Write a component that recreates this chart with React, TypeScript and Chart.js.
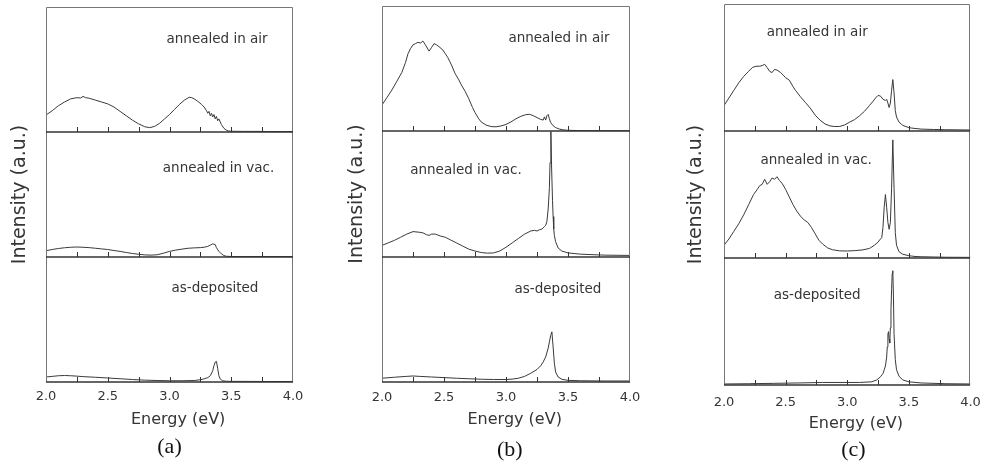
import React, { useEffect, useRef } from 'react';
import { Chart, registerables } from 'chart.js';

Chart.register(...registerables);

// ---------- axis / labels ----------
const X_MIN = 2.0;
const X_MAX = 4.0;
const X_TICK_VALUES = [2.0, 2.25, 2.5, 2.75, 3.0, 3.25, 3.5, 3.75, 4.0];
const X_TICK_LABELS = ['2.0', '', '2.5', '', '3.0', '', '3.5', '', '4.0'];
const Y_MIN = 0;
const Y_MAX = 100;
const X_TITLE = 'Energy (eV)';
const Y_TITLE = 'Intensity (a.u.)';
const SUB_LABELS = ['annealed in air', 'annealed in vac.', 'as-deposited'];
const CAPTIONS = ['(a)', '(b)', '(c)'];

// ---------- panel (a) ----------
const aAirE = [2.00, 2.05, 2.10, 2.15, 2.20, 2.25, 2.28, 2.30, 2.32, 2.35, 2.40, 2.45, 2.50, 2.55, 2.60, 2.65, 2.70, 2.75, 2.80, 2.84, 2.88, 2.92, 2.96, 3.00, 3.04, 3.08, 3.12, 3.16, 3.18, 3.20, 3.23, 3.26, 3.28, 3.30, 3.31, 3.32, 3.33, 3.34, 3.35, 3.36, 3.37, 3.38, 3.39, 3.40, 3.42, 3.44, 3.46, 3.48, 3.50, 3.60, 3.70, 3.80, 3.90, 4.00];
const aAirI = [13.6, 17, 21, 24, 26.5, 27.5, 27.2, 28.5, 27.5, 27, 25.5, 24, 22.5, 20, 16.5, 13, 9.5, 6.5, 4.2, 3.5, 4.5, 7, 10.5, 14, 18, 22, 25.5, 27.8, 27.5, 26.5, 24.5, 22, 20, 17, 15, 16.5, 13, 15, 12, 14, 10.5, 12.5, 9, 10.5, 6, 3, 1.5, 0.8, 0.6, 0.5, 0.5, 0.4, 0.4, 0.4];

const aVacE = [2.00, 2.05, 2.10, 2.15, 2.20, 2.25, 2.30, 2.35, 2.40, 2.45, 2.50, 2.55, 2.60, 2.65, 2.70, 2.75, 2.80, 2.85, 2.90, 2.95, 3.00, 3.05, 3.10, 3.15, 3.20, 3.25, 3.28, 3.31, 3.33, 3.35, 3.37, 3.38, 3.40, 3.42, 3.44, 3.46, 3.50, 3.60, 3.80, 4.00];
const aVacI = [5, 6, 6.8, 7.4, 7.8, 8, 7.8, 7.5, 7, 6.5, 6, 5.2, 4.5, 3.6, 2.8, 2.2, 1.7, 1.5, 1.8, 3, 4.5, 5.5, 6.3, 7, 7.3, 7.5, 7.8, 8.5, 9.5, 10.5, 10, 7.5, 4.5, 2.5, 1.2, 0.6, 0.4, 0.4, 0.4, 0.4];

const aDepE = [2.00, 2.05, 2.10, 2.15, 2.20, 2.25, 2.30, 2.40, 2.50, 2.60, 2.70, 2.80, 2.90, 3.00, 3.10, 3.20, 3.25, 3.28, 3.31, 3.33, 3.35, 3.36, 3.37, 3.38, 3.39, 3.40, 3.41, 3.43, 3.46, 3.50, 3.60, 3.80, 4.00];
const aDepI = [4, 4.5, 5, 5.2, 5, 4.7, 4.3, 3.8, 3.2, 2.6, 2, 1.5, 1.2, 1, 1, 1.2, 1.8, 2.5, 3.5, 5, 9, 13, 16, 16.5, 11, 5, 2.5, 1, 0.6, 0.5, 0.5, 0.4, 0.4];

// ---------- panel (b) ----------
const bAirE = [2.00, 2.04, 2.08, 2.12, 2.16, 2.19, 2.21, 2.23, 2.25, 2.27, 2.29, 2.31, 2.33, 2.35, 2.38, 2.40, 2.42, 2.44, 2.46, 2.49, 2.51, 2.53, 2.56, 2.59, 2.62, 2.64, 2.67, 2.70, 2.73, 2.75, 2.78, 2.80, 2.84, 2.88, 2.92, 2.96, 3.00, 3.04, 3.08, 3.12, 3.16, 3.19, 3.22, 3.25, 3.28, 3.30, 3.31, 3.32, 3.33, 3.34, 3.35, 3.36, 3.38, 3.40, 3.43, 3.46, 3.50, 3.60, 3.80, 4.00];
const bAirI = [21, 27, 33, 40, 47, 55, 62, 66, 69, 70, 71, 70.5, 72, 69, 64, 67, 70, 69, 67.5, 65, 62, 59, 53, 46, 41, 37, 32, 26, 19, 15, 10, 7.5, 5, 3.8, 3.6, 4.3, 5.5, 7.5, 10, 12, 13.3, 13.6, 12.5, 11, 9.5, 9, 11.5, 9, 12.5, 13.5, 10, 7, 4.5, 3, 1.8, 1.2, 0.8, 0.6, 0.5, 0.5];

const bVacE = [2.00, 2.05, 2.10, 2.15, 2.20, 2.25, 2.30, 2.33, 2.36, 2.38, 2.40, 2.43, 2.47, 2.51, 2.55, 2.60, 2.65, 2.70, 2.75, 2.80, 2.85, 2.90, 2.95, 3.00, 3.05, 3.10, 3.15, 3.20, 3.23, 3.25, 3.27, 3.29, 3.31, 3.32, 3.33, 3.34, 3.35, 3.355, 3.362, 3.368, 3.375, 3.38, 3.385, 3.39, 3.40, 3.42, 3.45, 3.50, 3.60, 3.80, 4.00];
const bVacI = [9, 11, 13, 15.5, 18, 20, 19.5, 19, 17.5, 17, 18, 18, 16.5, 15.5, 13.5, 11, 8.5, 6, 4.5, 3.3, 2.8, 3, 4.5, 7.5, 11, 14.5, 18, 20.5, 21, 20.5, 21.5, 22, 24, 25, 28, 38, 55, 75, 100, 70, 45, 32, 22, 17, 12, 7, 4.5, 3, 2, 1.2, 1];

const bDepE = [2.00, 2.10, 2.20, 2.25, 2.30, 2.40, 2.50, 2.60, 2.70, 2.80, 2.90, 3.00, 3.05, 3.10, 3.15, 3.20, 3.25, 3.28, 3.30, 3.32, 3.34, 3.35, 3.36, 3.37, 3.38, 3.39, 3.40, 3.42, 3.45, 3.50, 3.60, 3.80, 4.00];
const bDepI = [3, 3.8, 4.5, 4.8, 4.5, 4, 3.5, 3, 2.6, 2.2, 2, 2, 2.3, 3, 4.5, 7, 10, 13, 16, 20, 27, 32, 37, 40, 28, 15, 8, 4, 2.2, 1.3, 1, 0.8, 0.8];

// ---------- panel (c) ----------
const cAirE = [2.00, 2.04, 2.08, 2.12, 2.16, 2.20, 2.23, 2.26, 2.29, 2.31, 2.33, 2.35, 2.37, 2.39, 2.41, 2.43, 2.46, 2.48, 2.50, 2.53, 2.56, 2.58, 2.62, 2.66, 2.70, 2.74, 2.78, 2.82, 2.86, 2.90, 2.94, 2.98, 3.02, 3.06, 3.10, 3.14, 3.18, 3.21, 3.23, 3.25, 3.27, 3.29, 3.31, 3.32, 3.33, 3.34, 3.35, 3.36, 3.37, 3.38, 3.39, 3.40, 3.42, 3.45, 3.50, 3.55, 3.60, 3.70, 3.80, 3.90, 4.00];
const cAirI = [20, 26, 32, 38, 43, 47, 50, 51, 51, 51.5, 52.5, 50, 47, 46, 48.5, 48, 46, 44, 42, 40, 35, 32, 27, 22.5, 18, 12.5, 8.5, 5.5, 4, 3.5, 3.6, 4.8, 7, 9, 12, 15.5, 20, 23.5, 26, 28, 27.5, 25, 24, 25, 22, 18.5, 22, 32, 40.5, 30, 16, 11, 7, 4.5, 2.6, 2, 1.5, 1.2, 1, 0.9, 0.8];

const cVacE = [2.00, 2.04, 2.08, 2.12, 2.16, 2.20, 2.24, 2.27, 2.29, 2.31, 2.33, 2.35, 2.37, 2.39, 2.41, 2.43, 2.45, 2.47, 2.50, 2.53, 2.56, 2.59, 2.62, 2.65, 2.68, 2.71, 2.74, 2.77, 2.80, 2.84, 2.88, 2.94, 3.00, 3.06, 3.12, 3.18, 3.22, 3.25, 3.27, 3.28, 3.29, 3.30, 3.31, 3.32, 3.33, 3.34, 3.35, 3.36, 3.37, 3.38, 3.39, 3.40, 3.42, 3.45, 3.50, 3.55, 3.60, 3.70, 3.80, 4.00];
const cVacI = [10, 15, 21, 27, 34, 42, 50, 54, 57, 58, 62, 58, 60, 63, 62, 64, 61, 59, 54, 48, 42, 37, 33, 30, 28, 24, 19, 14, 11, 8, 6.5, 5.6, 5.5, 5.8, 6.3, 7.5, 10, 12.5, 15, 16, 24, 40, 50, 40, 28, 22.6, 28, 55, 93, 55, 20, 10, 5, 3, 1.8, 1.2, 1, 0.8, 0.6, 0.5];

const cDepE = [2.00, 2.20, 2.40, 2.60, 2.80, 3.00, 3.10, 3.20, 3.24, 3.27, 3.29, 3.30, 3.31, 3.32, 3.325, 3.33, 3.335, 3.34, 3.345, 3.35, 3.355, 3.36, 3.365, 3.37, 3.375, 3.38, 3.39, 3.40, 3.42, 3.45, 3.50, 3.60, 3.80, 4.00];
const cDepI = [0.8, 1, 1.3, 1.6, 2, 2, 2, 2.5, 4, 6.5, 9, 12, 15, 22, 30, 40, 42, 36, 33, 45, 60, 75, 88, 90, 70, 40, 20, 12, 7, 4, 2.5, 1.6, 1, 0.8];

// ---------- styles ----------
const FONT = 'DejaVu Sans';
const SERIF = 'Liberation Serif';
const TEXT = '#353535';
const LINE = '#3a3a3a';
const FRAME = '#777777';
const DIVIDER = '#333333';
const H = 468;

const PANELS = [
  {
    caption: CAPTIONS[0], left: 0, width: 340,
    pad: { left: 0, right: 47, top: 7, bottom: 0 },
    yWidth: 46, yTitlePad: 8.6, xHeight: 86, xTickPad: 7.2,
    xTitleE: 3.07, xTitleDy: 38, captionE: 3.0, captionY: 447,
    series: [[aAirE, aAirI], [aVacE, aVacI], [aDepE, aDepI]],
    labelPos: [[3.385, 74.4], [3.397, 70.6], [3.368, 75]],
  },
  {
    caption: CAPTIONS[1], left: 340, width: 340,
    pad: { left: 0, right: 50, top: 6, bottom: 0 },
    yWidth: 42, yTitlePad: 5.6, xHeight: 86, xTickPad: 7.7,
    xTitleE: 3.07, xTitleDy: 38, captionE: 3.03, captionY: 450,
    series: [[bAirE, bAirI], [bVacE, bVacI], [bDepE, bDepI]],
    labelPos: [[3.427, 74.4], [2.677, 68.8], [3.419, 73.8]],
  },
  {
    caption: CAPTIONS[2], left: 680, width: 311,
    pad: { left: 0, right: 13, top: 4, bottom: 0 },
    yWidth: 44, yTitlePad: 4.6, xHeight: 83, xTickPad: 10.2,
    xTitleE: 3.07, xTitleDy: 39, captionE: 3.05, captionY: 450,
    series: [[cAirE, cAirI], [cVacE, cVacI], [cDepE, cDepI]],
    labelPos: [[2.756, 77.8], [2.748, 76.4], [2.756, 70.3]],
  },
];

const Y_IDS = ['yTop', 'yMid', 'yBot'];

function makeDecor(cfg: any) {
  return {
    id: 'panelDecor',
    afterDatasetsDraw(chart: any) {
      const { ctx, chartArea, scales } = chart;
      const xs = scales.x;
      const L = Math.round(chartArea.left) + 0.5;
      const R = Math.round(chartArea.right) - 0.5;
      ctx.save();
      // outer vertical edges + top edge
      ctx.strokeStyle = FRAME;
      ctx.lineWidth = 1;
      ctx.beginPath();
      const topY = Math.round(scales.yTop.top) + 0.5;
      const botY = Math.round(scales.yBot.bottom);
      ctx.moveTo(L, topY); ctx.lineTo(L, botY);
      ctx.moveTo(R, topY); ctx.lineTo(R, botY);
      ctx.moveTo(L, topY); ctx.lineTo(R, topY);
      ctx.stroke();
      Y_IDS.forEach((id, i) => {
        const s = scales[id];
        const B = Math.round(s.bottom);
        ctx.strokeStyle = DIVIDER;
        ctx.lineWidth = 1.6;
        ctx.beginPath();
        ctx.moveTo(L - 0.5, B); ctx.lineTo(R + 0.5, B);
        ctx.stroke();
        ctx.lineWidth = 1;
        ctx.beginPath();
        xs.ticks.forEach((t: any) => {
          if (t.value <= X_MIN || t.value >= X_MAX) return;
          const px = Math.round(xs.getPixelForValue(t.value)) + 0.5;
          ctx.moveTo(px, B);
          ctx.lineTo(px, B - 5);
        });
        ctx.stroke();
        const [lx, ly] = cfg.labelPos[i];
        ctx.fillStyle = TEXT;
        ctx.font = `13.5px "${FONT}"`;
        ctx.textAlign = 'center';
        ctx.textBaseline = 'middle';
        ctx.fillText(SUB_LABELS[i], xs.getPixelForValue(lx), s.getPixelForValue(ly));
      });
      // x-axis title
      ctx.fillStyle = TEXT;
      ctx.font = `16px "${FONT}"`;
      ctx.textAlign = 'center';
      ctx.textBaseline = 'middle';
      ctx.fillText(X_TITLE, xs.getPixelForValue(cfg.xTitleE), chartArea.bottom + cfg.xTitleDy);
      // caption
      ctx.fillStyle = '#111';
      ctx.font = `22px "${SERIF}"`;
      ctx.fillText(cfg.caption, xs.getPixelForValue(cfg.captionE), cfg.captionY);
      ctx.restore();
    },
  };
}

function buildConfig(cfg: any) {
  const yAxis = (extra: any) => ({
    type: 'linear',
    min: Y_MIN,
    max: Y_MAX,
    position: 'left',
    stack: 'panel',
    stackWeight: 1,
    ticks: { display: false },
    grid: { display: false, drawTicks: false },
    border: { display: false },
    afterFit: (s: any) => { s.width = cfg.yWidth; },
    ...extra,
  });
  const datasets = cfg.series.map(([E, I]: any, i: number) => ({
    label: SUB_LABELS[i],
    data: E.map((e: number, k: number) => ({ x: e, y: I[k] })),
    yAxisID: Y_IDS[i],
    borderColor: LINE,
    borderWidth: 1,
    pointRadius: 0,
    tension: 0,
    fill: false,
  }));
  return {
    type: 'line',
    data: { datasets },
    options: {
      responsive: false,
      animation: false,
      events: [],
      layout: { padding: cfg.pad },
      plugins: {
        legend: { display: false },
        tooltip: { enabled: false },
        title: { display: false },
      },
      scales: {
        x: {
          type: 'linear',
          min: X_MIN,
          max: X_MAX,
          afterBuildTicks: (s: any) => { s.ticks = X_TICK_VALUES.map((v) => ({ value: v })); },
          ticks: {
            autoSkip: false,
            maxRotation: 0,
            padding: cfg.xTickPad,
            color: TEXT,
            font: { family: FONT, size: 13, lineHeight: 1.2 },
            callback: (_v: any, i: number) => X_TICK_LABELS[i],
          },
          grid: { display: false, drawTicks: false },
          border: { display: false },
          title: { display: false },
          afterFit: (s: any) => { s.height = cfg.xHeight; },
        },
        // first defined is placed at the bottom of the stack
        yBot: yAxis({}),
        yMid: yAxis({
          title: {
            display: true,
            text: Y_TITLE,
            color: TEXT,
            font: { family: FONT, size: 19, lineHeight: 1.2 },
            padding: { top: cfg.yTitlePad, bottom: 0 },
          },
        }),
        yTop: yAxis({}),
      },
    },
    plugins: [makeDecor(cfg)],
  };
}

function Panel({ cfg }: { cfg: any }) {
  const ref = useRef<HTMLCanvasElement | null>(null);
  useEffect(() => {
    if (!ref.current) return;
    const chart = new Chart(ref.current, buildConfig(cfg) as any);
    return () => chart.destroy();
  }, [cfg]);
  return (
    <canvas
      ref={ref}
      width={cfg.width}
      height={H}
      style={{ position: 'absolute', left: cfg.left, top: 0, width: cfg.width, height: H }}
    />
  );
}

export default function App() {
  return (
    <div style={{ position: 'absolute', left: 0, top: 0, width: 991, height: H, background: '#fff', overflow: 'hidden' }}>
      {PANELS.map((p) => (
        <Panel key={p.caption} cfg={p} />
      ))}
    </div>
  );
}
